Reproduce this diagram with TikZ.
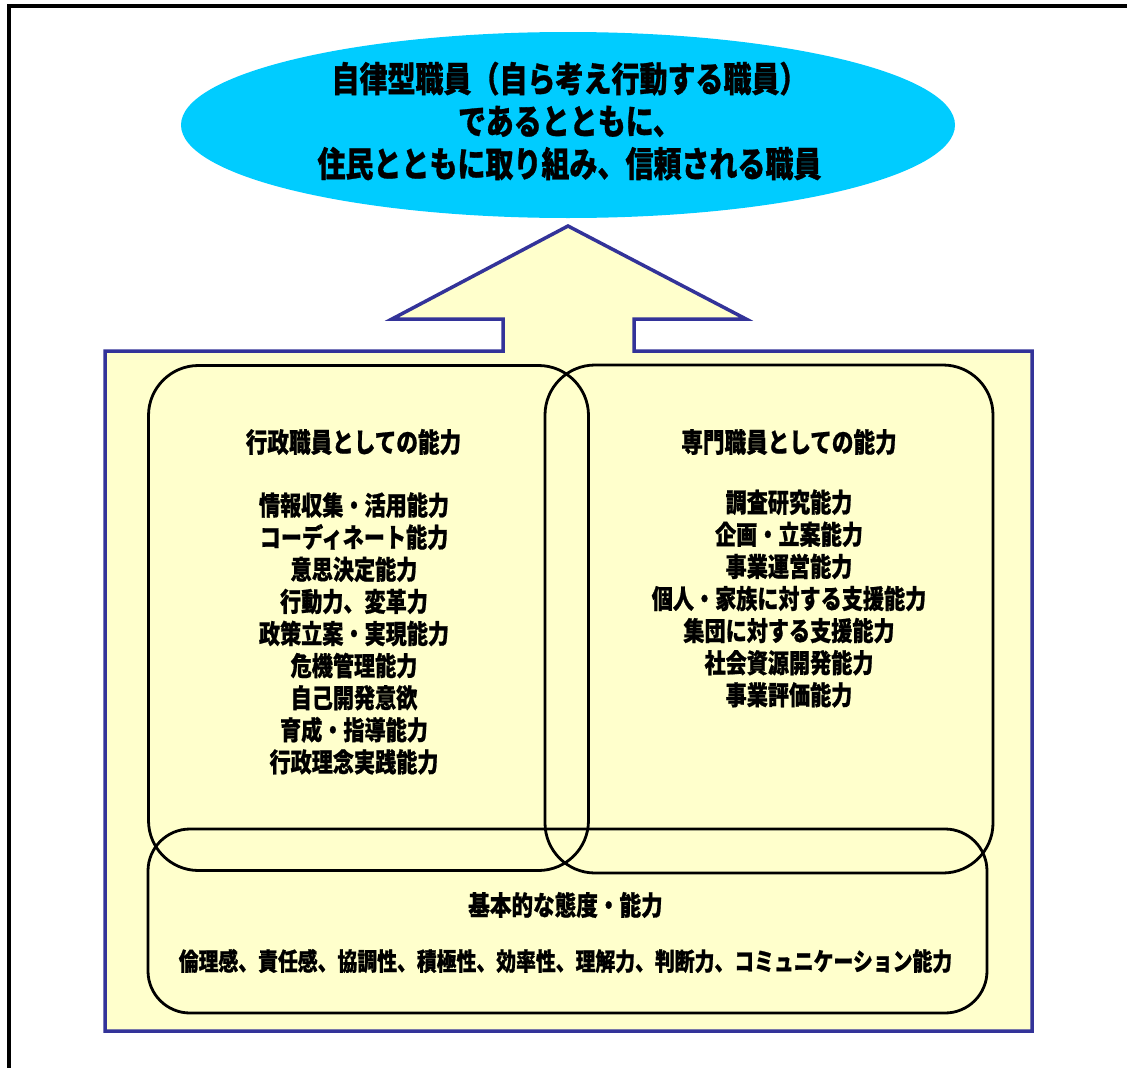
\documentclass[tikz,border=0pt]{standalone}
\usepackage{fontspec}
\usetikzlibrary{shapes.geometric}
\newfontfamily\jp[FakeStretch=0.8, FakeBold=0.8]{Noto Sans CJK JP}
\definecolor{goalcyan}{HTML}{00CCFF}
\definecolor{paleyellow}{HTML}{FFFFCC}
\definecolor{navyline}{HTML}{333399}
\tikzset{
  capbox/.style={draw=black, line width=2.8pt, rounded corners=50pt, inner sep=0pt},
  heading/.style={font=\jp\bfseries\fontsize{27}{30}\selectfont, inner sep=0pt},
  itemlist/.style={font=\jp\bfseries\fontsize{26.4}{32.1}\selectfont, align=center, inner sep=0pt},
}
\begin{document}
\begin{tikzpicture}[x=1pt,y=-1pt]
\useasboundingbox (0,0) rectangle (1127,1068);
\fill[white] (0,0) rectangle (1127,1068);
% frame
\draw[line width=4pt, black] (9,1070) -- (9,6) -- (1130,6);
% goal ellipse
\node[ellipse, fill=goalcyan, minimum width=774pt, minimum height=186pt, inner sep=0pt] (goal) at (568,125) {};
\node[font=\jp\bfseries\fontsize{35}{42.5}\selectfont, align=center, inner sep=0pt] (goaltext) at (569.5,121)
  {自律型職員（自ら考え行動する職員）\\であるとともに、\\住民とともに取り組み、信頼される職員};
% arrow + container
\draw[line width=3.5pt, draw=navyline, fill=paleyellow, line join=miter]
  (105,351) -- (503,351) -- (503,319) -- (392,319) -- (568,226) -- (746,319)
  -- (634,319) -- (634,351) -- (1032,351) -- (1032,1031) -- (105,1031) -- cycle;
% capability boxes
\node[capbox, minimum width=440pt, minimum height=505pt] (admin) at (368.5,618) {};
\node[capbox, minimum width=448pt, minimum height=508pt] (spec) at (769,619) {};
\node[capbox, rounded corners=42pt, minimum width=839pt, minimum height=184pt] (basic) at (567.5,921) {};
% texts
\node[heading] (adminhead) at (353.5,442) {行政職員としての能力};
\node[itemlist] (adminlist) at (354,633.5)
  {情報収集・活用能力\\コーディネート能力\\意思決定能力\\行動力、変革力\\政策立案・実現能力\\危機管理能力\\自己開発意欲\\育成・指導能力\\行政理念実践能力};
\node[heading] (spechead) at (789,442) {専門職員としての能力};
\node[itemlist] (speclist) at (789,598.5)
  {調査研究能力\\企画・立案能力\\事業運営能力\\個人・家族に対する支援能力\\集団に対する支援能力\\社会資源開発能力\\事業評価能力};
\node[heading] (basichead) at (565.5,905) {基本的な態度・能力};
\node[font=\jp\bfseries\fontsize{24.8}{28}\selectfont, inner sep=0pt] (basiclist) at (565.5,961)
  {倫理感、責任感、協調性、積極性、効率性、理解力、判断力、コミュニケーション能力};
\end{tikzpicture}
\end{document}
